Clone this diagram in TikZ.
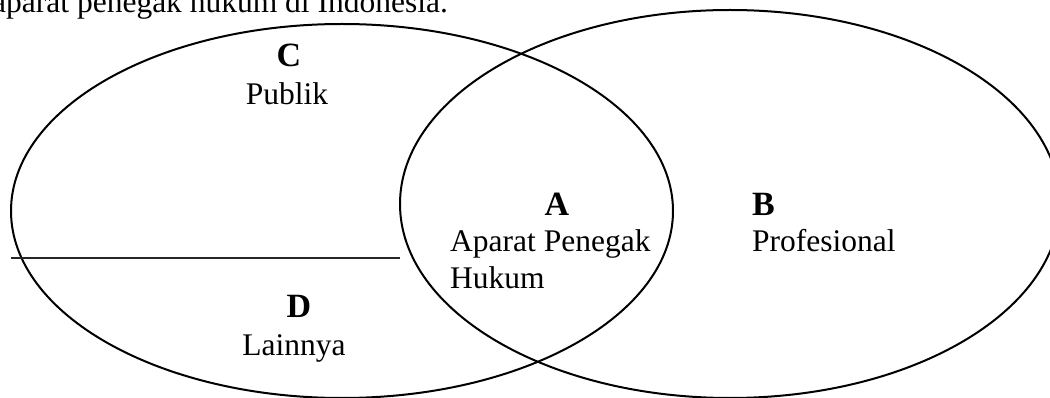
\documentclass[tikz,border=0pt]{standalone}
\usepackage{fontspec}
\setmainfont{Liberation Serif}
\begin{document}
\begin{tikzpicture}[x=1pt,y=-1pt,
  lbl/.style={inner sep=0pt, font=\fontsize{31.5}{36}\selectfont},
  ttl/.style={inner sep=0pt, font=\fontsize{34}{38}\selectfont\bfseries},
  ring/.style={line width=2pt},
  split/.style={line width=1.4pt, draw=black!85}]
\useasboundingbox (0,0) rectangle (1050,398);
\draw[ring] (342,211) ellipse [x radius=331pt, y radius=187pt];
\draw[ring] (730,204) ellipse [x radius=330pt, y radius=194pt];
\coordinate (sl) at (11,258);
\coordinate (sr) at (400,258);
\draw[split] (sl) -- (sr);
\node[lbl, anchor=base west] (cap) at (-8,13) {aparat penegak hukum di Indonesia.};
\node[ttl, anchor=base] (c) at (289,67) {C};
\node[lbl, anchor=base] (pub) at (287,105) {Publik};
\node[ttl, anchor=base] (a) at (557,216) {A};
\node[lbl, anchor=base west] (apa) at (450,252) {Aparat Penegak};
\node[lbl, anchor=base west] (huk) at (450,289) {Hukum};
\node[ttl, anchor=base west] (b) at (752,216) {B};
\node[lbl, anchor=base west] (pro) at (752,252) {Profesional};
\node[ttl, anchor=base] (d) at (299,317) {D};
\node[lbl, anchor=base] (lain) at (294,355) {Lainnya};
\end{tikzpicture}
\end{document}
